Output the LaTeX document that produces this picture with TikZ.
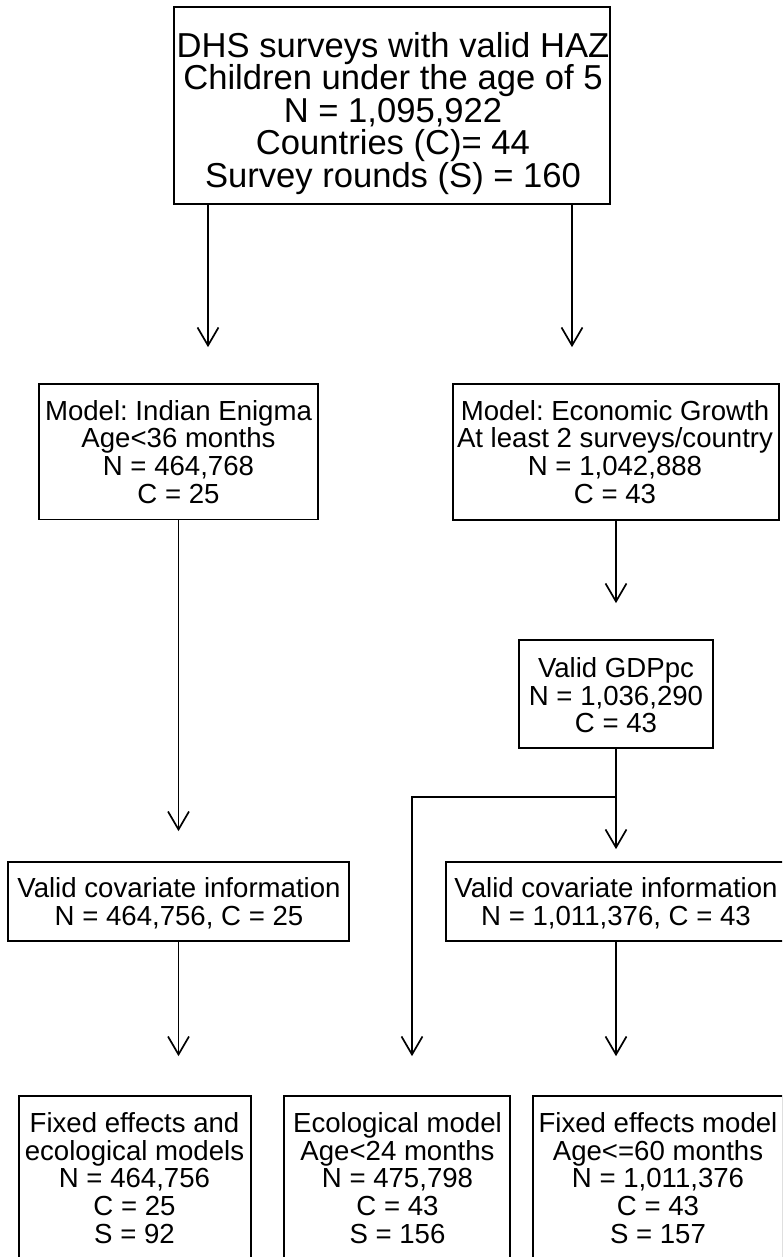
\documentclass[tikz,border=0pt]{standalone}
\usepackage{fontspec}
\setmainfont{Liberation Sans}
\usetikzlibrary{arrows.meta}
\frenchspacing
\begin{document}
\begin{tikzpicture}[x=1pt,y=-1pt,
  box/.style={draw, line width=1.7pt, inner sep=0pt},
  txt/.style={inner sep=0pt, anchor=north, align=center, font=\fontsize{27.6}{27.8}\selectfont},
  bigtxt/.style={txt, font=\fontsize{34.6}{32.5}\selectfont},
  arr/.style={line width=1.7pt, -{Straight Barb[length=18pt,width=21pt]}}]
\useasboundingbox (0,0) rectangle (782,1257);
\fill[white] (0,0) rectangle (782,1257);
\clip (0,0) rectangle (782,1257);

% boxes
\node[box, minimum width=436pt, minimum height=197pt] (top) at (392,105.5) {};
\node[box, minimum width=279pt, minimum height=135.5pt] (ind) at (178.5,451.75) {};
\node[box, minimum width=326pt, minimum height=136pt] (eg) at (616,452) {};
\node[box, minimum width=194pt, minimum height=108pt] (gdp) at (616,694) {};
\node[box, minimum width=341pt, minimum height=79pt] (cov1) at (178.5,901.5) {};
\node[box, minimum width=340pt, minimum height=79pt] (cov2) at (616,901.5) {};
\node[box, minimum width=232pt, minimum height=166pt] (b1) at (135,1179) {};
\node[box, minimum width=226pt, minimum height=166pt] (b2) at (397,1179) {};
\node[box, minimum width=250pt, minimum height=166pt] (b3) at (658,1179) {};

% texts
\node[bigtxt] (topt) at (393,31) {\rule{0pt}{0.75em}DHS surveys with valid HAZ\\Children under the age of 5\\N = 1,095,922\\Countries (C)= 44\\Survey rounds (S) = 160};
\node[txt] (indt) at (178.5,399.1) {\rule{0pt}{0.75em}Model: Indian Enigma\\Age<36 months\\N = 464,768\\C = 25};
\node[txt] (egt) at (615,399.1) {\rule{0pt}{0.75em}Model: Economic Growth\\At least 2 surveys/country\\N = 1,042,888\\C = 43};
\node[txt] (gdpt) at (616,656.4) {\rule{0pt}{0.75em}Valid GDPpc\\N = 1,036,290\\C = 43};
\node[txt] (cov1t) at (179,876.4) {\rule{0pt}{0.75em}Valid covariate information\\N = 464,756, C = 25};
\node[txt] (cov2t) at (616,876.4) {\rule{0pt}{0.75em}Valid covariate information\\N = 1,011,376, C = 43};
\node[txt] (b1t) at (134.5,1111.4) {\rule{0pt}{0.75em}Fixed effects and\\ecological models\\N = 464,756\\C = 25\\S = 92};
\node[txt] (b2t) at (397.5,1111.4) {\rule{0pt}{0.75em}Ecological model\\Age<24 months\\N = 475,798\\C = 43\\S = 156};
\node[txt] (b3t) at (658,1111.4) {\rule{0pt}{0.75em}Fixed effects model\\Age<=60 months\\N = 1,011,376\\C = 43\\S = 157};

% connectors
\coordinate (xa) at (208,0);
\coordinate (xb) at (572,0);
\coordinate (j) at (412,797);
\draw[arr, shorten >=36pt] (top.south -| xa) -- (ind.north -| xa);
\draw[arr, shorten >=36pt] (top.south -| xb) -- (eg.north -| xb);
\draw[arr, shorten >=30pt] (ind.south) -- (cov1.north);
\draw[arr, shorten >=36pt] (eg.south) -- (gdp.north);
\draw[arr, shorten >=12pt] (gdp.south) -- (cov2.north);
\draw[arr, shorten >=39pt] (gdp.south) |- (j) -- (j |- b2.north);
\draw[arr, shorten >=39pt] (cov1.south) -- (cov1.south |- b1.north);
\draw[arr, shorten >=39pt] (cov2.south) -- (cov2.south |- b3.north);
\end{tikzpicture}
\end{document}
